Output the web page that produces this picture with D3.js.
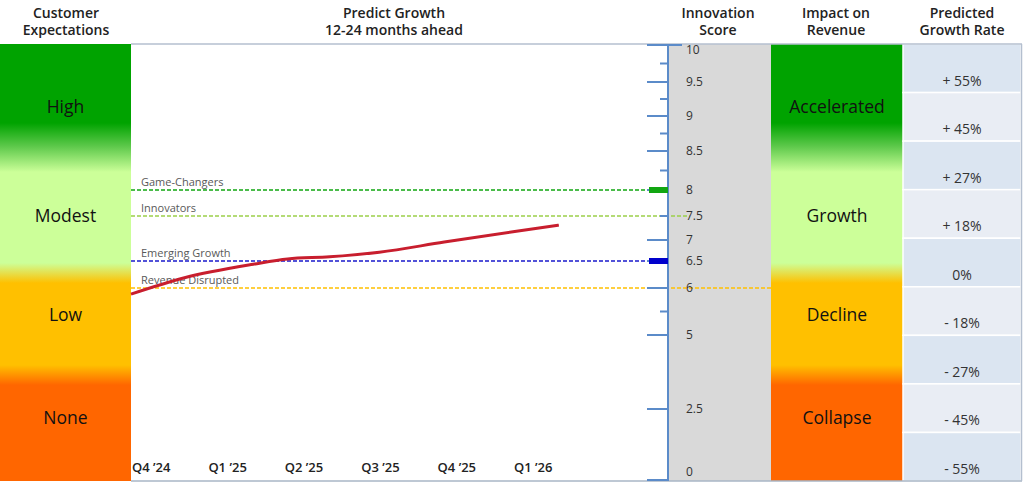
<!DOCTYPE html>
<html><head><meta charset="utf-8">
<script src="https://cdn.jsdelivr.net/npm/d3@7"></script>
<style>body{margin:0;background:#fff;}svg{display:block;font-family:"Open Sans",sans-serif;}</style>
</head><body><svg id="c" width="1024" height="487"></svg>
<script>
// ---- data ----
const headers = [
  ["Customer","Expectations"],
  ["Predict Growth","12-24 months ahead"],
  ["Innovation","Score"],
  ["Impact on","Revenue"],
  ["Predicted","Growth Rate"]
];
const customerLevels = ["High","Modest","Low","None"];
const impactLevels = ["Accelerated","Growth","Decline","Collapse"];
const growthRates = ["+ 55%","+ 45%","+ 27%","+ 18%","0%","- 18%","- 27%","- 45%","- 55%"];
const quarters = ["Q4 \u201924","Q1 \u201925","Q2 \u201925","Q3 \u201925","Q4 \u201925","Q1 \u201926"];
const scoreTicks = [10,9.5,9,8.5,8,7.5,7,6.5,6,5,2.5,0];
const scoreMinorTicks = [9.75,9.25,8.75,8.25,7.5,5.5];
const refNames = ["Game-Changers","Innovators","Emerging Growth","Revenue Disrupted"];
const refScores = [8,7.5,6.5,6];
const refColors = ["#11a611","#9ccf4a","#1a1acc","#ffc000"];
const lineQuarterIdx = [0,0.7,1.6,2.05,2.6,3.25,4.1,5,5.6];
const lineScores = [5.87,6.19,6.44,6.55,6.6,6.71,6.95,7.17,7.31];

// ---- layout ----
const svg = d3.select("#c");
const yTop = 44, yBot = 481;
const col = {left:[0,131], chart:[131,668], score:[668,771], impact:[771,903], rate:[903,1021]};

// the reference's score axis is piecewise (non-uniform tick spacing)
const y = d3.scaleLinear()
  .domain([0,2.5,5,6,6.5,7,7.5,8,8.5,9,9.5,10])
  .range([480,409,335,288,261,240,216,190,151,116,82,45]);
const x = d3.scaleLinear().domain([0,5]).range([131,513]);

// gradient
const defs = svg.append("defs");
const grad = defs.append("linearGradient").attr("id","lvl").attr("gradientUnits","userSpaceOnUse")
  .attr("x1",0).attr("x2",0).attr("y1",yTop).attr("y2",yBot);
const gstops = [[44,"#00a300"],[123,"#00a300"],[146,"#5cc84a"],[172,"#ccff99"],[263,"#ccff99"],[283,"#ffc000"],[365,"#ffc000"],[385,"#ff6600"],[481,"#ff6600"]];
gstops.forEach(([p,c])=>grad.append("stop").attr("offset",(p-yTop)/(yBot-yTop)).attr("stop-color",c));

// headers
const hx = [66,394,718,836,962];
headers.forEach((h,i)=>{
  const t = svg.append("text").attr("x",hx[i]).attr("text-anchor","middle")
    .attr("font-size",14).attr("font-weight",600).attr("fill","#222");
  h.forEach((s,j)=>t.append("tspan").attr("x",hx[i]).attr("y",18+j*17).text(s));
});

// level columns
[[col.left,customerLevels],[col.impact,impactLevels]].forEach(([c,labels])=>{
  svg.append("rect").attr("x",c[0]).attr("y",yTop).attr("width",c[1]-c[0]).attr("height",yBot-yTop).attr("fill","url(#lvl)");
  const ly = [107,216,315,418];
  labels.forEach((l,i)=>svg.append("text").attr("x",(c[0]+c[1])/2).attr("y",ly[i]).attr("dy","0.35em")
    .attr("text-anchor","middle").attr("font-size",17.5).attr("fill","#111").text(l));
});

// score column
svg.append("rect").attr("x",col.score[0]).attr("y",yTop).attr("width",col.score[1]-col.score[0]).attr("height",yBot-yTop).attr("fill","#d9d9d9");

// growth rate table
const rb = d3.scaleBand().domain(growthRates).range([yTop,yBot]);
svg.selectAll(".rr").data(growthRates).join("rect")
  .attr("x",col.rate[0]).attr("y",d=>rb(d)).attr("width",col.rate[1]-col.rate[0]).attr("height",rb.bandwidth())
  .attr("fill",(d,i)=>i%2?"#e9edf4":"#dbe5f1").attr("stroke","#fff").attr("stroke-width",1.5);
svg.selectAll(".rt").data(growthRates).join("text")
  .attr("x",(col.rate[0]+col.rate[1])/2).attr("y",d=>rb(d)+rb.bandwidth()-7)
  .attr("text-anchor","middle").attr("font-size",14).attr("fill","#333").text(d=>d);

// borders
svg.append("line").attr("x1",131).attr("x2",1022).attr("y1",yTop).attr("y2",yTop).attr("stroke","#b4bfcf").attr("stroke-width",1.5);
svg.append("line").attr("x1",131).attr("x2",1022).attr("y1",yBot).attr("y2",yBot).attr("stroke","#a9b6c6").attr("stroke-width",1.5);
svg.append("line").attr("x1",1021.5).attr("x2",1021.5).attr("y1",yTop).attr("y2",yBot).attr("stroke","#b4bfcf").attr("stroke-width",1.5);

// reference lines
const refEnds = [650,690,650,771];
refScores.forEach((s,i)=>{
  svg.append("line").attr("x1",131).attr("x2",refEnds[i]).attr("y1",y(s)).attr("y2",y(s))
    .attr("stroke",refColors[i]).attr("stroke-width",1.5).attr("stroke-dasharray","4,2");
  svg.append("text").attr("x",141).attr("y",y(s)-4).attr("font-size",11).attr("fill","#595959").text(refNames[i]);
});

// axis
const ax = 668;
svg.append("line").attr("x1",ax).attr("x2",ax).attr("y1",yTop).attr("y2",yBot).attr("stroke","#5b8bc9").attr("stroke-width",2);
const longT = scoreTicks.filter(t=>t!==7.5);
svg.selectAll(".mt").data(longT).join("line").attr("x1",647).attr("x2",ax).attr("y1",d=>y(d)).attr("y2",d=>y(d))
  .attr("stroke","#5b8bc9").attr("stroke-width",2);
svg.append("line").attr("x1",ax).attr("x2",682).attr("y1",y(10)).attr("y2",y(10)).attr("stroke","#5b8bc9").attr("stroke-width",2);
svg.selectAll(".nt").data(scoreMinorTicks).join("line").attr("x1",660).attr("x2",ax).attr("y1",d=>y(d)).attr("y2",d=>y(d))
  .attr("stroke","#5b8bc9").attr("stroke-width",2);
svg.selectAll(".tl").data(scoreTicks).join("text").attr("x",686).attr("y",d=>Math.min(472,Math.max(50,y(d)))).attr("dy","0.35em")
  .attr("font-size",12).attr("fill","#333").text(d=>d);
// markers
[[8,"#11a611"],[6.5,"#0000cc"]].forEach(([s,c])=>svg.append("rect").attr("x",649).attr("y",y(s)-3).attr("width",19).attr("height",6).attr("fill",c));

// quarter labels
svg.selectAll(".ql").data(quarters).join("text").attr("x",(d,i)=>x(i)+1).attr("y",472)
  .attr("font-size",13).attr("font-weight",600).attr("fill","#222").text(d=>d);

// growth line
const pts = lineQuarterIdx.map((q,i)=>[x(q),y(lineScores[i])]);
svg.append("path").attr("d",d3.line().curve(d3.curveMonotoneX)(pts)).attr("fill","none")
  .attr("stroke","#c81e2e").attr("stroke-width",3).attr("stroke-linecap","butt");
</script></body></html>
